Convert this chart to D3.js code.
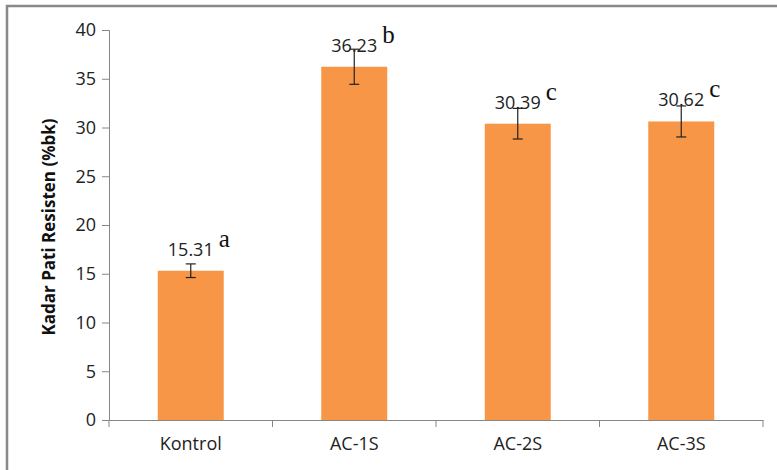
<!DOCTYPE html>
<html>
<head>
<meta charset="utf-8">
<script src="https://cdn.jsdelivr.net/npm/d3@7"></script>
<style>
  html, body { margin: 0; padding: 0; background: #fff; }
  svg { display: block; }
</style>
</head>
<body>
<svg id="chart" width="777" height="470"></svg>
<script>
const categories = ["Kontrol", "AC-1S", "AC-2S", "AC-3S"];
const values = [15.31, 36.23, 30.39, 30.62];
const errors = [0.7, 1.8, 1.57, 1.59];
const letters = ["a", "b", "c", "c"];
const yTicks = [0, 5, 10, 15, 20, 25, 30, 35, 40];
const yTitle = "Kadar Pati Resisten (%bk)";

(function () {
const svg = d3.select("#chart");
const W = 777, H = 470;
const mLeft = 109, mRight = 763, mTop = 30, mBottom = 420;

// outer frame (top and left edges visible)
svg.append("path")
  .attr("d", `M7,${H + 5} L7,6 L${W + 5},6`)
  .attr("fill", "none").attr("stroke", "#898989").attr("stroke-width", 2.5);

const x = d3.scaleBand().domain(categories).range([mLeft, mRight]).padding(0);
const y = d3.scaleLinear().domain([0, 40]).range([mBottom, mTop]);
const barW = 66;

const font = "'Open Sans', 'Noto Sans', sans-serif";
const axisColor = "#868686";

// y axis
const yAxis = svg.append("g").attr("transform", `translate(${mLeft},0)`)
  .call(d3.axisLeft(y).tickValues(yTicks).tickSize(7).tickPadding(6).tickFormat(d3.format("d")));
yAxis.select(".domain").attr("stroke", axisColor).attr("stroke-width", 1);
yAxis.selectAll(".tick line").attr("stroke", axisColor);
yAxis.selectAll(".tick text").attr("fill", "#222").style("font-family", font).style("font-size", "18px");

// bars
svg.append("g").selectAll("rect").data(categories).join("rect")
  .attr("x", d => x(d) + x.bandwidth() / 2 - barW / 2)
  .attr("width", barW)
  .attr("y", (d, i) => y(values[i]))
  .attr("height", (d, i) => y(0) - y(values[i]))
  .attr("fill", "#F79646");

// x axis
const xAxis = svg.append("g").attr("transform", `translate(0,${mBottom})`)
  .call(d3.axisBottom(x).tickSize(0).tickPadding(17));
xAxis.select(".domain").attr("stroke", axisColor).attr("stroke-width", 1);
xAxis.selectAll(".tick text").attr("fill", "#222").style("font-family", font).style("font-size", "18px");
// boundary ticks
const bounds = categories.map(c => x(c)).concat([x(categories[categories.length - 1]) + x.bandwidth()]);
svg.append("g").selectAll("line").data(bounds).join("line")
  .attr("x1", d => d).attr("x2", d => d)
  .attr("y1", mBottom).attr("y2", mBottom + 7)
  .attr("stroke", axisColor);

// error bars
const eb = svg.append("g").attr("stroke", "#222").attr("stroke-width", 1.2);
categories.forEach((c, i) => {
  const cx = x(c) + x.bandwidth() / 2;
  const y1 = y(values[i] + errors[i]), y2 = y(values[i] - errors[i]);
  eb.append("line").attr("x1", cx).attr("x2", cx).attr("y1", y1).attr("y2", y2);
  eb.append("line").attr("x1", cx - 5).attr("x2", cx + 5).attr("y1", y1).attr("y2", y1);
  eb.append("line").attr("x1", cx - 5).attr("x2", cx + 5).attr("y1", y2).attr("y2", y2);
});

// data labels
svg.append("g").selectAll("text").data(categories).join("text")
  .attr("x", d => x(d) + x.bandwidth() / 2)
  .attr("y", (d, i) => y(values[i]) - 15)
  .attr("text-anchor", "middle")
  .attr("fill", "#222")
  .style("font-family", font).style("font-size", "18px")
  .text((d, i) => values[i].toFixed(2));

// significance letters
svg.append("g").selectAll("text").data(categories).join("text")
  .attr("x", d => x(d) + x.bandwidth() / 2 + 28)
  .attr("y", (d, i) => y(values[i]) - 24)
  .attr("fill", "#111")
  .style("font-family", "'Liberation Serif', 'DejaVu Serif', serif").style("font-size", "25px")
  .text((d, i) => letters[i]);

// y title
svg.append("text")
  .attr("transform", `translate(55,${(mTop + mBottom) / 2 + 2}) rotate(-90)`)
  .attr("text-anchor", "middle")
  .attr("fill", "#111")
  .style("font-family", font).style("font-size", "17px").style("font-weight", "bold")
  .text(yTitle);
})();
</script>
</body>
</html>
